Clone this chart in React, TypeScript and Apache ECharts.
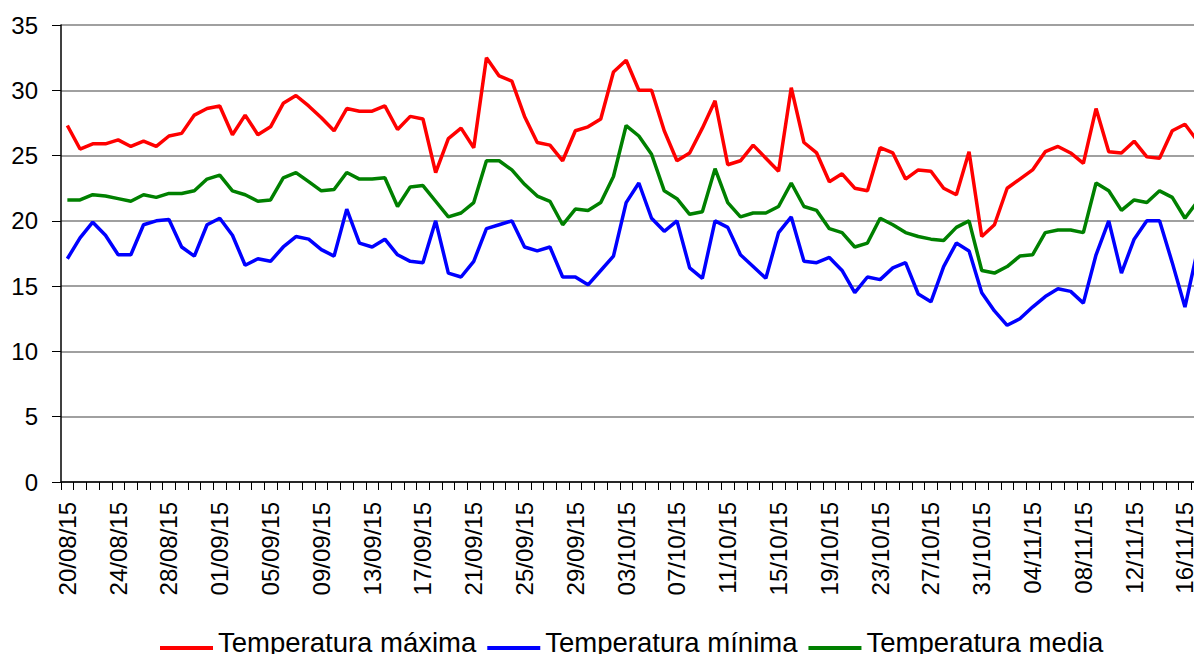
import React, { useEffect, useRef } from "react";
import * as echarts from "echarts";

const categories = [
  "20/08/15","21/08/15","22/08/15","23/08/15","24/08/15","25/08/15","26/08/15","27/08/15","28/08/15","29/08/15","30/08/15","31/08/15",
  "01/09/15","02/09/15","03/09/15","04/09/15","05/09/15","06/09/15","07/09/15","08/09/15","09/09/15","10/09/15",
  "11/09/15","12/09/15","13/09/15","14/09/15","15/09/15","16/09/15","17/09/15","18/09/15","19/09/15","20/09/15",
  "21/09/15","22/09/15","23/09/15","24/09/15","25/09/15","26/09/15","27/09/15","28/09/15","29/09/15","30/09/15",
  "01/10/15","02/10/15","03/10/15","04/10/15","05/10/15","06/10/15","07/10/15","08/10/15","09/10/15","10/10/15",
  "11/10/15","12/10/15","13/10/15","14/10/15","15/10/15","16/10/15","17/10/15","18/10/15","19/10/15","20/10/15",
  "21/10/15","22/10/15","23/10/15","24/10/15","25/10/15","26/10/15","27/10/15","28/10/15","29/10/15","30/10/15","31/10/15",
  "01/11/15","02/11/15","03/11/15","04/11/15","05/11/15","06/11/15","07/11/15","08/11/15","09/11/15","10/11/15",
  "11/11/15","12/11/15","13/11/15","14/11/15","15/11/15","16/11/15","17/11/15",
];

const tempMax = [
  27.3, 25.5, 25.9, 25.9, 26.2, 25.7, 26.1, 25.7, 26.5, 26.7,
  28.1, 28.6, 28.8, 26.6, 28.1, 26.6, 27.2, 29.0, 29.6, 28.8,
  27.9, 26.9, 28.6, 28.4, 28.4, 28.8, 27.0, 28.0, 27.8, 23.7,
  26.3, 27.1, 25.6, 32.5, 31.1, 30.7, 28.0, 26.0, 25.8, 24.6,
  26.9, 27.2, 27.8, 31.4, 32.3, 30.0, 30.0, 26.9, 24.6, 25.2,
  27.1, 29.2, 24.3, 24.6, 25.8, 24.8, 23.8, 30.2, 26.0, 25.2,
  23.0, 23.6, 22.5, 22.3, 25.6, 25.2, 23.2, 23.9, 23.8, 22.5,
  22.0, 25.3, 18.8, 19.7, 22.5, 23.2, 23.9, 25.3, 25.7, 25.2,
  24.4, 28.6, 25.3, 25.2, 26.1, 24.9, 24.8, 26.9, 27.4, 26.1,
];

const tempMin = [
  17.1, 18.7, 19.9, 18.9, 17.4, 17.4, 19.7, 20.0, 20.1, 18.0,
  17.3, 19.7, 20.2, 18.9, 16.6, 17.1, 16.9, 18.0, 18.8, 18.6,
  17.8, 17.3, 20.9, 18.3, 18.0, 18.6, 17.4, 16.9, 16.8, 20.0,
  16.0, 15.7, 16.9, 19.4, 19.7, 20.0, 18.0, 17.7, 18.0, 15.7,
  15.7, 15.1, 16.2, 17.3, 21.4, 22.9, 20.2, 19.2, 20.0, 16.4,
  15.6, 20.0, 19.5, 17.4, 16.5, 15.6, 19.1, 20.3, 16.9, 16.8,
  17.2, 16.2, 14.5, 15.7, 15.5, 16.4, 16.8, 14.4, 13.8, 16.5,
  18.3, 17.7, 14.5, 13.1, 12.0, 12.5, 13.4, 14.2, 14.8, 14.6,
  13.7, 17.4, 20.0, 16.0, 18.6, 20.0, 20.0, 16.8, 13.4, 17.8,
];

const tempMedia = [
  21.6, 21.6, 22.0, 21.9, 21.7, 21.5, 22.0, 21.8, 22.1, 22.1,
  22.3, 23.2, 23.5, 22.3, 22.0, 21.5, 21.6, 23.3, 23.7, 23.0,
  22.3, 22.4, 23.7, 23.2, 23.2, 23.3, 21.1, 22.6, 22.7, 21.5,
  20.3, 20.6, 21.4, 24.6, 24.6, 23.9, 22.8, 21.9, 21.5, 19.7,
  20.9, 20.8, 21.4, 23.4, 27.3, 26.5, 25.1, 22.3, 21.7, 20.5,
  20.7, 24.0, 21.4, 20.3, 20.6, 20.6, 21.1, 22.9, 21.1, 20.8,
  19.4, 19.1, 18.0, 18.3, 20.2, 19.7, 19.1, 18.8, 18.6, 18.5,
  19.5, 20.0, 16.2, 16.0, 16.5, 17.3, 17.4, 19.1, 19.3, 19.3,
  19.1, 22.9, 22.3, 20.8, 21.6, 21.4, 22.3, 21.8, 20.2, 21.5,
];

const seriesNames = ["Temperatura máxima", "Temperatura mínima", "Temperatura media"];
const seriesColors = ["#ff0000", "#0000ff", "#008000"];

const FONT = "'Liberation Sans', Arial, sans-serif";
const LEGEND_ICON = "path://M0,0h0.05v0.05h-0.05z M0,12h53v4h-53z";

export default function App() {
  const ref = useRef<HTMLDivElement>(null);

  useEffect(() => {
    if (!ref.current) return;
    const chart = echarts.init(ref.current, undefined, { renderer: "svg" });
    const values = [tempMax, tempMin, tempMedia];
    chart.setOption({
      animation: false,
      backgroundColor: "#ffffff",
      textStyle: { fontFamily: FONT },
      grid: { left: 61, right: 6, top: 25, bottom: 172, containLabel: false },
      legend: {
        left: 160,
        top: 628,
        padding: 0,
        icon: LEGEND_ICON,
        itemWidth: 53,
        itemHeight: 16,
        itemGap: 11,
        textStyle: {
          fontFamily: FONT,
          fontSize: 27.5,
          color: "#000000",
        },
        data: seriesNames,
      },
      xAxis: {
        type: "category",
        data: categories,
        boundaryGap: true,
        axisLine: { show: true, lineStyle: { color: "#000000", width: 1.5 } },
        axisTick: { show: true, interval: 0, length: 8, lineStyle: { color: "#000000", width: 1 } },
        axisLabel: {
          interval: 3,
          rotate: 90,
          margin: 20,
          fontSize: 24,
          fontFamily: FONT,
          color: "#000000",
        },
        splitLine: { show: false },
      },
      yAxis: {
        type: "value",
        min: 0,
        max: 35,
        interval: 5,
        axisLine: { show: true, lineStyle: { color: "#000000", width: 1.5 } },
        axisTick: { show: true, length: 9, lineStyle: { color: "#000000", width: 1 } },
        axisLabel: {
          margin: 23,
          fontSize: 24,
          fontFamily: FONT,
          color: "#000000",
        },
        splitLine: { show: true, lineStyle: { color: "#808080", width: 1.5 } },
      },
      series: seriesNames.map((name, k) => ({
        name,
        type: "line",
        data: values[k],
        symbol: "none",
        showSymbol: false,
        lineStyle: { color: seriesColors[k], width: 3.5 },
        itemStyle: { color: seriesColors[k] },
      })),
    });
    return () => chart.dispose();
  }, []);

  return (
    <div style={{ position: "fixed", left: 0, top: 0, width: 1194, height: 654, overflow: "hidden", background: "#fff" }}>
      <div ref={ref} style={{ position: "absolute", left: 0, top: 0, width: 1210, height: 654 }} />
    </div>
  );
}
